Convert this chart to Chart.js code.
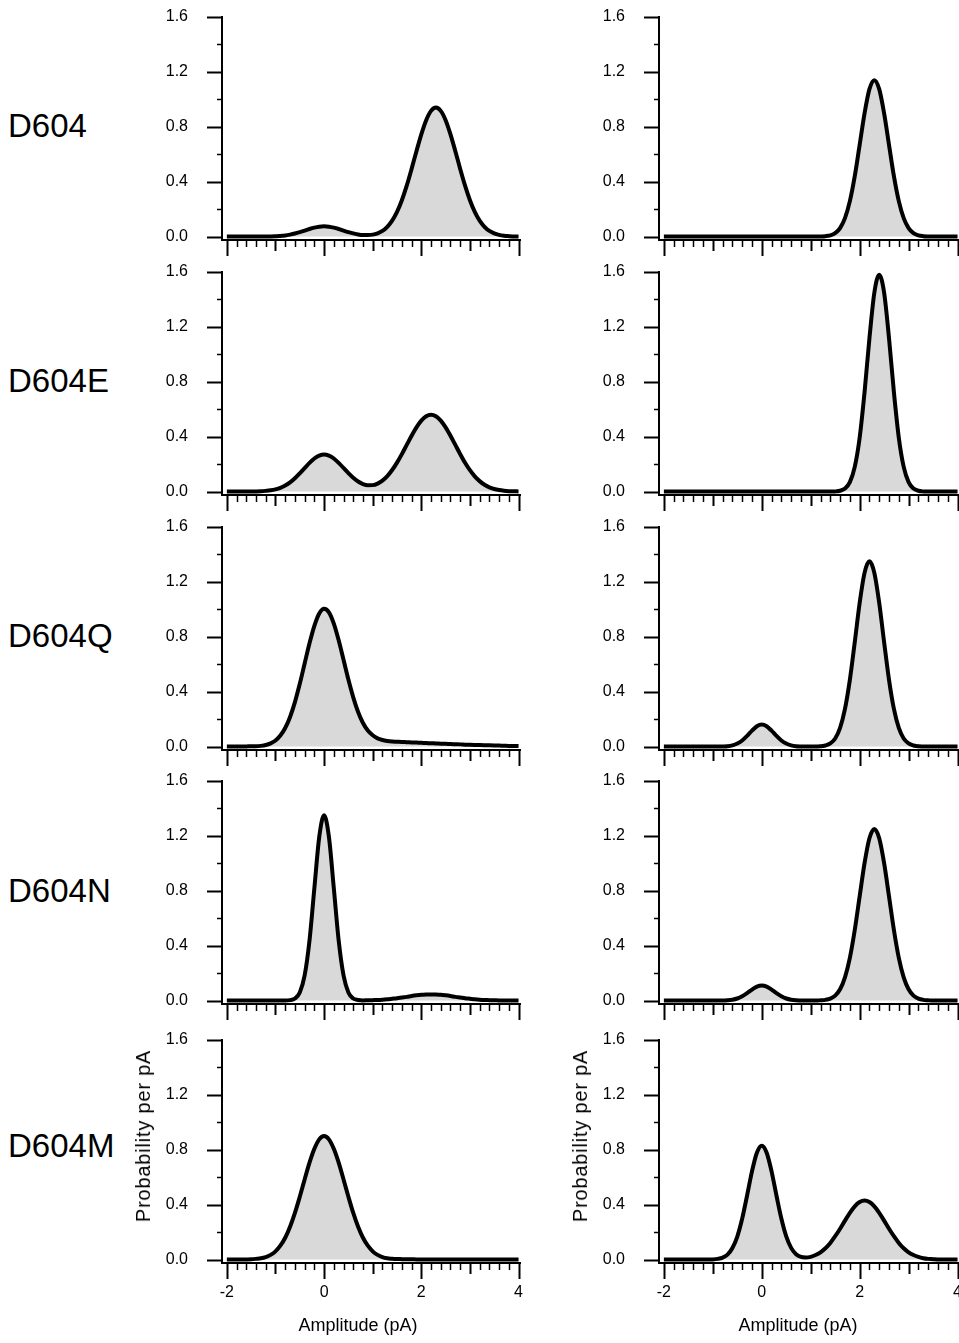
<!DOCTYPE html>
<html>
<head>
<meta charset="utf-8">
<script src="https://cdn.jsdelivr.net/npm/chart.js@4.4.0/dist/chart.umd.min.js"></script>
<style>
  html, body { margin: 0; padding: 0; background: #fff; overflow: hidden; }
  body { width: 959px; height: 1343px; position: relative; font-family: "Liberation Sans", Arial, sans-serif; color: #000; }
  canvas { position: absolute; }
  .row-label { position: absolute; left: 8px; font-size: 33px; line-height: 1; white-space: nowrap; }
  .x-title { position: absolute; width: 200px; text-align: center; font-size: 18px; line-height: 1; }
  .y-title { position: absolute; font-size: 20px; letter-spacing: 0.8px; line-height: 1; white-space: nowrap; transform: translate(-50%, -50%) rotate(-90deg); }
</style>
</head>
<body>
<script>
// amplitude grid (pA) shared by every curve
const amplitude = [
  -2.0, -1.9, -1.8, -1.7, -1.6, -1.5, -1.4, -1.3, -1.2, -1.1,
  -1.0, -0.9, -0.8, -0.7, -0.6, -0.5, -0.4, -0.3, -0.2, -0.1,
  0.0, 0.1, 0.2, 0.3, 0.4, 0.5, 0.6, 0.7, 0.8, 0.9,
  1.0, 1.1, 1.2, 1.3, 1.4, 1.5, 1.6, 1.7, 1.8, 1.9,
  2.0, 2.1, 2.2, 2.3, 2.4, 2.5, 2.6, 2.7, 2.8, 2.9,
  3.0, 3.1, 3.2, 3.3, 3.4, 3.5, 3.6, 3.7, 3.8, 3.9,
  4.0
];

// probability per pA, left column
const d604L = [
  0, 0, 0, 0, 0, 0, 0, 0, .001, .001,
  .002, .005, .008, .014, .022, .032, .043, .055, .065, .072,
  .075, .072, .065, .055, .043, .032, .023, .015, .011, .011,
  .014, .024, .041, .071, .116, .180, .265, .371, .493, .622,
  .745, .848, .916, .940, .916, .848, .745, .622, .493, .371,
  .265, .180, .116, .071, .041, .023, .012, .006, .003, .001,
  .001
];
const d604EL = [
  0, 0, 0, 0, 0, .001, .001, .002, .005, .009,
  .016, .027, .044, .067, .097, .133, .171, .209, .241, .262,
  .270, .262, .241, .209, .172, .135, .100, .073, .055, .046,
  .047, .058, .080, .113, .157, .211, .273, .340, .407, .468,
  .517, .549, .560, .549, .517, .468, .407, .340, .273, .210,
  .156, .111, .076, .050, .031, .019, .011, .006, .003, .002,
  .001
];
const d604QL = [
  .001, .001, .001, .001, .001, .002, .002, .005, .011, .023,
  .044, .080, .135, .216, .324, .457, .605, .753, .880, .970,
  1.004, .978, .896, .775, .633, .488, .359, .252, .172, .117,
  .082, .060, .048, .041, .037, .035, .033, .032, .030, .029,
  .027, .026, .024, .023, .021, .020, .018, .017, .016, .014,
  .013, .012, .011, .010, .009, .008, .007, .006, .005, .005,
  .004
];
const d604NL = [
  0, 0, 0, 0, 0, 0, 0, 0, 0, 0,
  0, 0, 0, .003, .015, .059, .183, .438, .819, 1.191,
  1.350, 1.191, .819, .438, .183, .059, .015, .004, .001, .002,
  .003, .004, .006, .009, .013, .017, .022, .027, .033, .038,
  .042, .044, .045, .044, .042, .038, .033, .027, .022, .017,
  .013, .009, .006, .004, .003, .002, .001, .001, 0, 0,
  0
];
const d604ML = [
  0, 0, 0, 0, .001, .002, .005, .009, .018, .034,
  .060, .101, .159, .239, .340, .458, .584, .706, .807, .876,
  .900, .876, .807, .706, .584, .458, .340, .239, .159, .101,
  .060, .034, .018, .009, .006, .004, .003, .002, .002, .001,
  .001, 0, 0, 0, 0, 0, 0, 0, 0, 0,
  0, 0, 0, 0, 0, 0, 0, 0, 0, 0,
  0
];

// probability per pA, right column
const d604R = [
  0, 0, 0, 0, 0, 0, 0, 0, 0, 0,
  0, 0, 0, 0, 0, 0, 0, 0, 0, 0,
  0, 0, 0, 0, 0, 0, 0, 0, 0, 0,
  0, 0, .001, .003, .009, .025, .062, .134, .258, .440,
  .668, .898, 1.074, 1.140, 1.074, .898, .668, .440, .258, .134,
  .062, .025, .009, .003, .001, 0, 0, 0, 0, 0,
  0
];
const d604ER = [
  0, 0, 0, 0, 0, 0, 0, 0, 0, 0,
  0, 0, 0, 0, 0, 0, 0, 0, 0, 0,
  0, 0, 0, 0, 0, 0, 0, 0, 0, 0,
  0, 0, 0, 0, 0, .001, .006, .022, .069, .180,
  .393, .724, 1.117, 1.449, 1.580, 1.449, 1.117, .724, .393, .180,
  .069, .022, .006, .001, 0, 0, 0, 0, 0, 0,
  0
];
const d604QR = [
  0, 0, 0, 0, 0, 0, 0, 0, 0, 0,
  0, 0, .001, .003, .009, .022, .044, .078, .116, .148,
  .160, .148, .116, .078, .044, .022, .009, .003, .001, 0,
  0, .001, .002, .008, .023, .059, .136, .274, .486, .760,
  1.046, 1.266, 1.350, 1.266, 1.046, .760, .486, .274, .136, .059,
  .023, .008, .002, .001, 0, 0, 0, 0, 0, 0,
  0
];
const d604NR = [
  0, 0, 0, 0, 0, 0, 0, 0, 0, 0,
  0, 0, .001, .002, .006, .015, .031, .054, .080, .102,
  .110, .102, .080, .054, .031, .015, .006, .002, .001, 0,
  0, 0, .002, .005, .014, .036, .082, .169, .311, .514,
  .759, 1.001, 1.183, 1.250, 1.183, 1.001, .759, .514, .311, .169,
  .082, .036, .014, .005, .002, 0, 0, 0, 0, 0,
  0
];
const d604MR = [
  0, 0, 0, 0, 0, 0, 0, 0, 0, 0,
  .001, .005, .014, .036, .084, .168, .299, .467, .643, .779,
  .830, .779, .643, .467, .299, .169, .085, .039, .019, .015,
  .020, .033, .053, .082, .121, .170, .225, .284, .341, .388,
  .419, .430, .419, .388, .341, .284, .225, .170, .121, .082,
  .053, .033, .019, .010, .005, .003, .001, .001, 0, 0,
  0
];

const mutants = ['D604', 'D604E', 'D604Q', 'D604N', 'D604M'];
const leftCurves = [d604L, d604EL, d604QL, d604NL, d604ML];
const rightCurves = [d604R, d604ER, d604QR, d604NR, d604MR];
const yTicks = [0, 0.4, 0.8, 1.2, 1.6];
const xTicks = [-2, 0, 2, 4];

Chart.defaults.font.family = '"Liberation Sans", Arial, sans-serif';
Chart.defaults.color = '#000';

// panel placement
const colLeft = [120, 557];
const colWidth = [410, 406];
const colPadRight = [10, 4];
const rowTop = [5, 260, 515, 769, 1028];
const Y_AXIS_W = 102;

// ticks every 0.2 on both axes, three lengths on x
const tickMarks = {
  id: 'tickMarks',
  afterDraw(chart) {
    const { ctx, chartArea } = chart;
    const x = chart.scales.x, y = chart.scales.y;
    ctx.save();
    ctx.strokeStyle = '#000';
    for (let k = 0; k <= 8; k++) {
      const py = Math.round(y.getPixelForValue(k * 0.2)) + 0.5;
      const major = k % 2 === 0;
      ctx.lineWidth = major ? 2 : 1.5;
      ctx.beginPath();
      ctx.moveTo(chartArea.left, py);
      ctx.lineTo(chartArea.left - (major ? 15 : 5), py);
      ctx.stroke();
    }
    for (let k = 0; k <= 30; k++) {
      const px = Math.round(x.getPixelForValue(-2 + k * 0.2)) + 0.5;
      const len = k % 10 === 0 ? 16 : (k % 5 === 0 ? 11 : 7);
      ctx.lineWidth = k % 5 === 0 ? 2 : 1.5;
      ctx.beginPath();
      ctx.moveTo(px, chartArea.bottom);
      ctx.lineTo(px, chartArea.bottom + len);
      ctx.stroke();
    }
    ctx.restore();
  }
};

// invisible tick marks only push the labels away from the axis
const hiddenGrid = len => ({
  display: true,
  drawOnChartArea: false,
  drawTicks: true,
  tickLength: len,
  tickColor: 'rgba(0,0,0,0)'
});

function makePanel(values, col, row) {
  const bottom = row === mutants.length - 1;
  const w = colWidth[col];
  const h = bottom ? 315 : 255;
  const canvas = document.createElement('canvas');
  canvas.width = w;
  canvas.height = h;
  canvas.style.width = w + 'px';
  canvas.style.height = h + 'px';
  canvas.style.left = colLeft[col] + 'px';
  canvas.style.top = rowTop[row] + 'px';
  document.body.appendChild(canvas);

  return new Chart(canvas, {
    type: 'line',
    data: {
      datasets: [{
        data: amplitude.map((a, i) => ({ x: a, y: values[i] })),
        borderColor: '#000',
        borderWidth: 4,
        backgroundColor: '#d9d9d9',
        fill: 'origin',
        pointRadius: 0,
        cubicInterpolationMode: 'monotone'
      }]
    },
    options: {
      responsive: false,
      maintainAspectRatio: false,
      animation: false,
      devicePixelRatio: 1,
      events: [],
      layout: { padding: { top: 12, right: colPadRight[col], bottom: 0, left: 0 } },
      plugins: { legend: { display: false }, tooltip: { enabled: false } },
      scales: {
        x: {
          type: 'linear',
          min: -2.1,
          max: 4.03,
          afterBuildTicks: s => { s.ticks = xTicks.map(v => ({ value: v })); },
          afterFit: s => { s.height = bottom ? 80 : 20; },
          grid: hiddenGrid(20),
          border: { display: true, color: '#000', width: 2 },
          ticks: {
            display: bottom,
            padding: 0,
            maxRotation: 0,
            autoSkip: false,
            font: { size: 16 },
            callback: v => String(v)
          }
        },
        y: {
          type: 'linear',
          min: -0.025,
          max: 1.6,
          afterBuildTicks: s => { s.ticks = yTicks.map(v => ({ value: v })); },
          afterFit: s => { s.width = Y_AXIS_W; },
          grid: hiddenGrid(34),
          border: { display: true, color: '#000', width: 2 },
          ticks: {
            padding: 0,
            autoSkip: false,
            font: { size: 16 },
            callback: v => v.toFixed(1)
          }
        }
      }
    },
    plugins: [tickMarks]
  });
}

mutants.forEach((name, r) => {
  const label = document.createElement('div');
  label.className = 'row-label';
  label.textContent = name;
  label.style.top = (109 + r * 255) + 'px';
  document.body.appendChild(label);

  makePanel(leftCurves[r], 0, r);
  makePanel(rightCurves[r], 1, r);
});

// axis titles under the bottom panels
[358, 798].forEach(cx => {
  const t = document.createElement('div');
  t.className = 'x-title';
  t.textContent = 'Amplitude (pA)';
  t.style.left = (cx - 100) + 'px';
  t.style.top = '1316px';
  document.body.appendChild(t);
});
[143, 580].forEach(cx => {
  const t = document.createElement('div');
  t.className = 'y-title';
  t.textContent = 'Probability per pA';
  t.style.left = cx + 'px';
  t.style.top = '1136px';
  document.body.appendChild(t);
});
</script>
</body>
</html>
